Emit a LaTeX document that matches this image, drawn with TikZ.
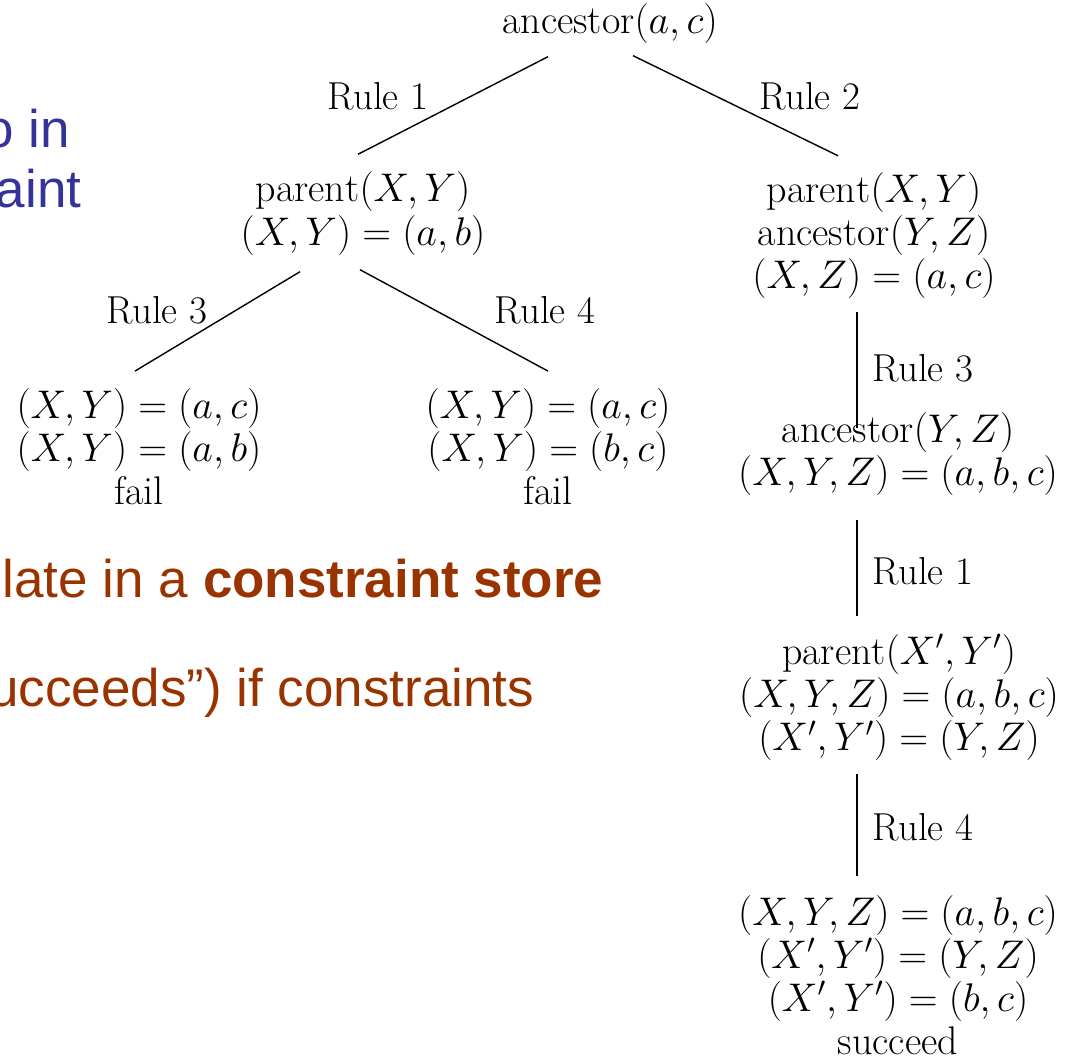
\documentclass[tikz,border=0pt]{standalone}
\usepackage{fontspec}
\newfontfamily\slidefont{Liberation Sans}
\definecolor{slideblue}{RGB}{51,51,153}
\definecolor{slidebrown}{RGB}{153,51,0}
\begin{document}
\begin{tikzpicture}[x=0.5318pt, y=-0.5318pt, line width=0.75pt,
    goal/.style={align=center, inner sep=0pt, scale=1.025, transform shape, font=\fontsize{20.74}{22.34}\selectfont},
    rulelbl/.style={inner sep=0pt, font=\fontsize{20.74}{22.34}\selectfont},
    slide/.style={inner sep=0pt, font=\slidefont\fontsize{28.18}{34}\selectfont}]
    \useasboundingbox (0,0) rectangle (1067,1059);
    % slide text behind the tree
    \node[slide, text=slideblue, anchor=base east] (t1) at (71,148) {o in};
    \node[slide, text=slideblue, anchor=base east] (t2) at (82,208) {aint};
    \node[slide, text=slidebrown, anchor=base west] (t3) at (2,597) {late in a \textbf{constraint store}};
    \node[slide, text=slidebrown, anchor=base east] (t4) at (535,706) {ucceeds”) if constraints};
    % goals
    \node[goal] (root) at (610,23.5) {$\mathrm{ancestor}(a,c)$};
    \node[goal] (p1) at (363,213.5) {$\mathrm{parent}(X,Y)$\\$(X,Y)=(a,b)$};
    \node[goal] (p2) at (874,235.5) {$\mathrm{parent}(X,Y)$\\$\mathrm{ancestor}(Y,Z)$\\$(X,Z)=(a,c)$};
    \node[goal] (f1) at (139,447) {$(X,Y)=(a,c)$\\$(X,Y)=(a,b)$\\fail};
    \node[goal] (f2) at (548,447) {$(X,Y)=(a,c)$\\$(X,Y)=(b,c)$\\fail};
    \node[goal] (s1) at (898,454) {$\mathrm{ancestor}(Y,Z)$\\$(X,Y,Z)=(a,b,c)$};
    \node[goal] (s2) at (899,697.5) {$\mathrm{parent}(X',Y')$\\$(X,Y,Z)=(a,b,c)$\\$(X',Y')=(Y,Z)$};
    \node[goal] (s3) at (898,975) {$(X,Y,Z)=(a,b,c)$\\$(X',Y')=(Y,Z)$\\$(X',Y')=(b,c)$\\succeed};
    % branches
    \node[rulelbl] (r1) at (378,96) {Rule 1};
    \node[rulelbl] (r2) at (810,96) {Rule 2};
    \node[rulelbl] (r3) at (157,310) {Rule 3};
    \node[rulelbl] (r4) at (545,310) {Rule 4};
    \draw ([shift={(-62,12.5)}]root.south) -- ([shift={(-5,-17)}]p1.north);
    \draw ([shift={(23,11.5)}]root.south) -- ([shift={(-36,-16)}]p2.north);
    \draw ([shift={(-63,16)}]p1.south) -- ([shift={(-4,-17)}]f1.north);
    \draw ([shift={(-3,14)}]p1.south) -- ([shift={(0,-17)}]f2.north);
    \draw ([shift={(-17,13)}]p2.south) -- ([shift={(-41,16)}]s1.north)
        node[rulelbl, midway, anchor=west, xshift=8pt, yshift=1pt] (r5) {Rule 3};
    \draw ([shift={(-41,24)}]s1.south) -- ([shift={(-42,-18)}]s2.north)
        node[rulelbl, midway, anchor=west, xshift=8pt, yshift=-2pt] (r6) {Rule 1};
    \draw ([shift={(-42,13)}]s2.south) -- ([shift={(-41,-19)}]s3.north)
        node[rulelbl, midway, anchor=west, xshift=8pt, yshift=-1pt] (r7) {Rule 4};
\end{tikzpicture}
\end{document}
